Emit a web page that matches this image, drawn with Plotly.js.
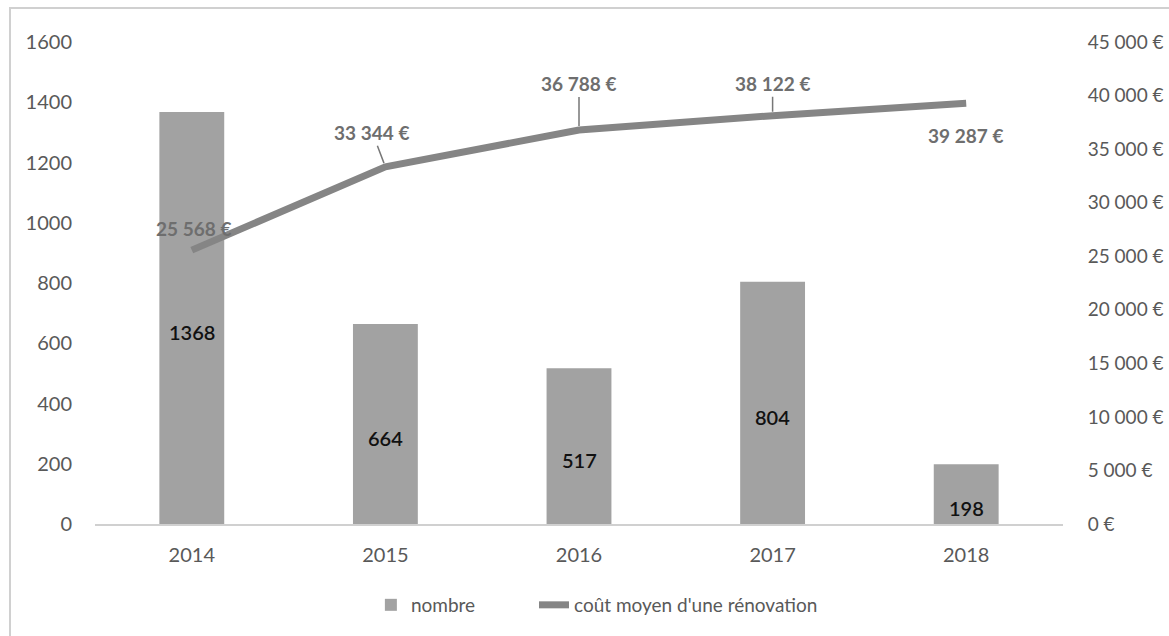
<!DOCTYPE html>
<html><head><meta charset="utf-8">
<script src="https://cdn.plot.ly/plotly-3.0.1.min.js"></script>
<style>html,body{margin:0;padding:0;background:#fff}#chart{width:1169px;height:636px}</style>
</head><body><div id="chart"></div>
<script>
const years = ['2014','2015','2016','2017','2018'];
const nombre = [1368, 664, 517, 804, 198];
const cout = [25568, 33344, 36788, 38122, 39287];
const coutLabels = ['25\u202F568\u202F€','33\u202F344\u202F€','36\u202F788\u202F€','38\u202F122\u202F€','39\u202F287\u202F€'];
const leftTicks = [0,200,400,600,800,1000,1200,1400,1600];
const rightTicks = [0,5000,10000,15000,20000,25000,30000,35000,40000,45000];
const rightTickText = ['0\u202F€','5\u202F000\u202F€','10\u202F000\u202F€','15\u202F000\u202F€','20\u202F000\u202F€','25\u202F000\u202F€','30\u202F000\u202F€','35\u202F000\u202F€','40\u202F000\u202F€','45\u202F000\u202F€'];
// label placement offsets (px) per point: [ax, ay, arrow]
const labelOffsets = [[2,-22,false],[-13,-34,true],[0,-46,true],[0,-32,true],[0,32,false]];

const font = 'Lato, Calibri, "Open Sans", sans-serif';
const xi = years.map((_, i) => i);

const traces = [
  {type:'bar', x:xi, y:nombre, name:'nombre', legend:'legend',
   marker:{color:'#a2a2a2'}, hoverinfo:'skip'},
  {type:'scatter', mode:'lines', x:xi, y:cout, yaxis:'y2', name:"coût moyen d'une rénovation", legend:'legend2',
   line:{color:'#858585', width:7}, hoverinfo:'skip'}
];

const annotations = xi.map((x,i)=>{
  const o = labelOffsets[i];
  return {x:x, y:cout[i], xref:'x', yref:'y2', text:'<b>'+coutLabels[i]+'</b>',
    showarrow:true, arrowhead:0, arrowwidth:o[2]?1.5:0.01, arrowcolor:o[2]?'#777':'rgba(0,0,0,0)',
    ax:o[0], ay:o[1], standoff:4, font:{family:font, size:19, color:'#6e6e6e'}};
}).concat(xi.map((x,i)=>({
  x:x, y:nombre[i]/2, xref:'x', yref:'y', text:String(nombre[i]), showarrow:false,
  yshift:-14, font:{family:font, size:20, color:'#111', weight:600}
})));

const hidden = 'rgba(0,0,0,0)';
const legFont = {family:font, size:19, color:'#595959'};
const layout = {
  width:1169, height:636,
  margin:{l:95, r:106, t:42, b:112},
  paper_bgcolor:'#fff', plot_bgcolor:'#fff',
  showlegend:true,
  legend:{orientation:'h', x:0.285, xanchor:'left', y:-0.168, yanchor:'middle', font:legFont, bgcolor:hidden},
  legend2:{orientation:'h', x:0.4535, xanchor:'left', y:-0.168, yanchor:'middle', font:legFont, bgcolor:hidden},
  bargap:0.665,
  xaxis:{type:'linear', range:[-0.5,4.5], tickvals:xi, ticktext:years, showgrid:false, zeroline:false,
    showline:true, linecolor:'#d0d0d0', linewidth:1.5,
    ticks:'outside', ticklen:12, tickcolor:hidden, tickfont:{family:font, size:20, color:'#595959'}},
  yaxis:{range:[0,1600], tickvals:leftTicks, showgrid:false, zeroline:false, showline:false,
    ticks:'outside', ticklen:18, tickcolor:hidden,
    tickfont:{family:font, size:20, color:'#595959'}},
  yaxis2:{range:[0,45000], overlaying:'y', side:'right', tickvals:rightTicks, ticktext:rightTickText,
    showgrid:false, zeroline:false, showline:false, ticks:'outside', ticklen:20, tickcolor:hidden,
    tickfont:{family:font, size:19, color:'#595959'}},
  annotations:annotations,
  shapes:[{type:'rect', xref:'paper', yref:'paper',
    x0:(10-95)/968, x1:(1185-95)/968, y0:(524-660)/482, y1:(524-8)/482,
    line:{color:'#d0d0d0', width:2}, fillcolor:'rgba(0,0,0,0)'}]
};

Plotly.newPlot('chart', traces, layout, {displayModeBar:false, staticPlot:true});
</script></body></html>
